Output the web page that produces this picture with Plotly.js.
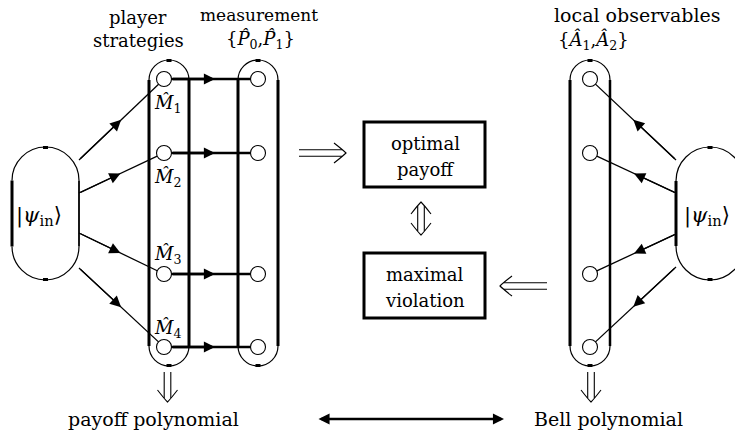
<!DOCTYPE html>
<html><head><meta charset="utf-8">
<script src="https://cdn.plot.ly/plotly-3.0.1.min.js"></script>
<style>html,body{margin:0;padding:0;background:#fff}</style>
</head><body><div id="chart" style="width:735px;height:430px"></div>
<script>
// ---- diagram data (pixel-like data units) ----
const nodeY = [79, 153, 274, 347];
const playerX = 164;
const measureX = 258;
const localX = 590;
const playerLabels = ["1", "2", "3", "4"];
const playerLabelY = [104, 178, 255, 329];
// pills: [x1, x2, yTop, yBottom]
const playerPill = [149, 189, 60, 366];
const measurePill = [238, 278, 60, 366];
const localPill = [570, 610, 60, 366];
const psiLeftPill = [12, 79, 147, 280];
const psiRightPill = [676, 744, 147, 280];
// source points on psi pills
const leftSrcY = [160, 193, 233, 268];
const rightSrcY = [160, 193, 234, 267];
// boxes [x1,x2,y1,y2]
const boxPayoff = [364, 485, 122, 187];
const boxViolation = [364, 485, 253, 318];

const FONT = "'DejaVu Serif', 'Liberation Serif', serif";
const FS = 18;
const shapes = [];
const annotations = [];
const K = 0.5523;

function line(x0, y0, x1, y1, w) {
  shapes.push({type: "line", xref: "x", yref: "y", x0, y0, x1, y1, layer: "below",
    line: {color: "#000", width: w}});
}
function path(p, w) {
  shapes.push({type: "path", xref: "x", yref: "y", path: p, layer: "below", line: {color: "#000", width: w}});
}
function pill(p, wl, wr) {
  const [x1, x2, yT, yB] = p;
  const r = (x2 - x1) / 2, cx = (x1 + x2) / 2;
  path(`M ${x1},${yT + r} C ${x1},${yT + r - K * r} ${cx - K * r},${yT} ${cx},${yT} C ${cx + K * r},${yT} ${x2},${yT + r - K * r} ${x2},${yT + r}`, 1.2);
  path(`M ${x1},${yB - r} C ${x1},${yB - r + K * r} ${cx - K * r},${yB} ${cx},${yB} C ${cx + K * r},${yB} ${x2},${yB - r + K * r} ${x2},${yB - r}`, 1.2);
  line(x1, yT + r, x1, yB - r, wl);
  line(x2, yT + r, x2, yB - r, wr);
  line(cx - 2.5, yT + 0.5, cx + 2.5, yT + 0.5, 3);
  line(cx - 2.5, yB - 0.5, cx + 2.5, yB - 0.5, 3);
}
function arrowEdge(x0, y0, x1, y1, w, frac, size) {
  line(x0, y0, x1, y1, w);
  const tx = x0 + (x1 - x0) * frac, ty = y0 + (y1 - y0) * frac;
  annotations.push({x: tx, y: ty, ax: x0, ay: y0, xref: "x", yref: "y", axref: "x", ayref: "y",
    text: "", showarrow: true, arrowhead: 2, arrowsize: size, arrowwidth: w, arrowcolor: "#000"});
}
function text(x, y, t, opts) {
  annotations.push(Object.assign({x, y, xref: "x", yref: "y", text: t, showarrow: false,
    font: {family: FONT, size: FS, color: "#000"}, xanchor: "center", yanchor: "middle"}, opts || {}));
}
function box(b) {
  shapes.push({type: "rect", xref: "x", yref: "y", x0: b[0], x1: b[1], y0: b[2], y1: b[3], layer: "below",
    line: {color: "#000", width: 3}, fillcolor: "rgba(0,0,0,0)"});
}
// LaTeX-like double arrow (implication), tip at (tx,ty), direction (dx,dy), length len
function dblArrow(tx, ty, dx, dy, len, both) {
  const px = -dy, py = dx, g = 3.3, hl = 12, hw = 10;
  const sx = tx - dx * len, sy = ty - dy * len;
  const ex = tx - dx * 4, ey = ty - dy * 4;
  const bx = both ? sx + dx * 4 : sx, by = both ? sy + dy * 4 : sy;
  line(bx + px * g, by + py * g, ex + px * g, ey + py * g, 1.1);
  line(bx - px * g, by - py * g, ex - px * g, ey - py * g, 1.1);
  const head = (tx, ty, dx, dy) => {
    const ax = tx - dx * hl + px * hw, ay = ty - dy * hl + py * hw;
    const cx = tx - dx * hl * 0.2 + px * hw * 0.25, cy = ty - dy * hl * 0.2 + py * hw * 0.25;
    const bx2 = tx - dx * hl - px * hw, by2 = ty - dy * hl - py * hw;
    const cx2 = tx - dx * hl * 0.2 - px * hw * 0.25, cy2 = ty - dy * hl * 0.2 - py * hw * 0.25;
    path(`M ${ax},${ay} Q ${cx},${cy} ${tx},${ty} Q ${cx2},${cy2} ${bx2},${by2}`, 1.1);
  };
  head(tx, ty, dx, dy);
  if (both) head(sx, sy, -dx, -dy);
}

pill(playerPill, 3, 3);
pill(measurePill, 3, 3);
pill(localPill, 3, 2.5);
pill(psiLeftPill, 3, 1.8);
pill(psiRightPill, 3, 1.8);
box(boxPayoff);
box(boxViolation);

const r = 7.5;
nodeY.forEach((y, i) => {
  const dxL = playerX - psiLeftPill[1], dyL = y - leftSrcY[i];
  const dL = Math.hypot(dxL, dyL);
  arrowEdge(psiLeftPill[1], leftSrcY[i], playerX - r * dxL / dL, y - r * dyL / dL, 1.3, 0.53, 1.7);
  arrowEdge(playerX + r, y, measureX - r, y, 2.6, 0.55, 0.85);
  const dxR = localX - psiRightPill[0], dyR = y - rightSrcY[i];
  const dR = Math.hypot(dxR, dyR);
  arrowEdge(psiRightPill[0], rightSrcY[i], localX - r * dxR / dR, y - r * dyR / dR, 1.3, 0.53, 1.7);
  text(playerX + 3, playerLabelY[i], "<i>M\u0302</i><sub>" + playerLabels[i] + "</sub>");
});

// headers
text(138, 17, "player");
text(138, 40, "strategies");
text(259, 15, "measurement", {font: {family: FONT, size: 17, color: "#000"}});
text(224, 40, "{<i>P\u0302</i><sub>0</sub>,<i>P\u0302</i><sub>1</sub>}", {xanchor: "left"});
text(637, 15, "local observables", {font: {family: FONT, size: 19, color: "#000"}});
text(556, 40, "{<i>A\u0302</i><sub>1</sub>,<i>A\u0302</i><sub>2</sub>}", {xanchor: "left"});
const PSI = {family: FONT, size: 21, color: "#000"};
text(14, 216, "|<i>\u03C8</i><sub>in</sub>\u27E9", {xanchor: "left", font: PSI});
text(682, 216, "|<i>\u03C8</i><sub>in</sub>\u27E9", {xanchor: "left", font: PSI});
text(425, 143, "optimal");
text(425, 169, "payoff");
text(425, 274, "maximal");
text(425, 300, "violation");
const BOT = {family: FONT, size: 19, color: "#000"};
text(153, 419, "payoff polynomial", {font: BOT});
text(608, 419, "Bell polynomial", {font: BOT});

// implication arrows
dblArrow(346, 153, 1, 0, 47, false);
dblArrow(500, 286, -1, 0, 47, false);
dblArrow(421, 235, 0, 1, 33, true);
dblArrow(167.5, 402, 0, 1, 30, false);
dblArrow(591, 402, 0, 1, 30, false);

// Bell <-> payoff arrow
annotations.push({x: 504, y: 419, ax: 317, ay: 419, xref: "x", yref: "y", axref: "x", ayref: "y",
  text: "", showarrow: true, arrowhead: 2, startarrowhead: 2, arrowside: "end+start",
  arrowsize: 0.85, startarrowsize: 0.85, arrowwidth: 2.6, arrowcolor: "#000"});

const nodes = {
  type: "scatter", mode: "markers", hoverinfo: "skip",
  x: [...nodeY.map(() => playerX), ...nodeY.map(() => measureX), ...nodeY.map(() => localX)],
  y: [...nodeY, ...nodeY, ...nodeY],
  marker: {symbol: "circle", size: 15, color: "#fff", line: {color: "#000", width: 1.1}}
};

Plotly.newPlot("chart", [nodes], {
  width: 735, height: 430, margin: {l: 0, r: 0, t: 0, b: 0},
  paper_bgcolor: "#fff", plot_bgcolor: "#fff", showlegend: false,
  xaxis: {range: [0, 735], visible: false, fixedrange: true},
  yaxis: {range: [430, 0], visible: false, fixedrange: true},
  shapes, annotations
}, {staticPlot: true});
</script></body></html>
